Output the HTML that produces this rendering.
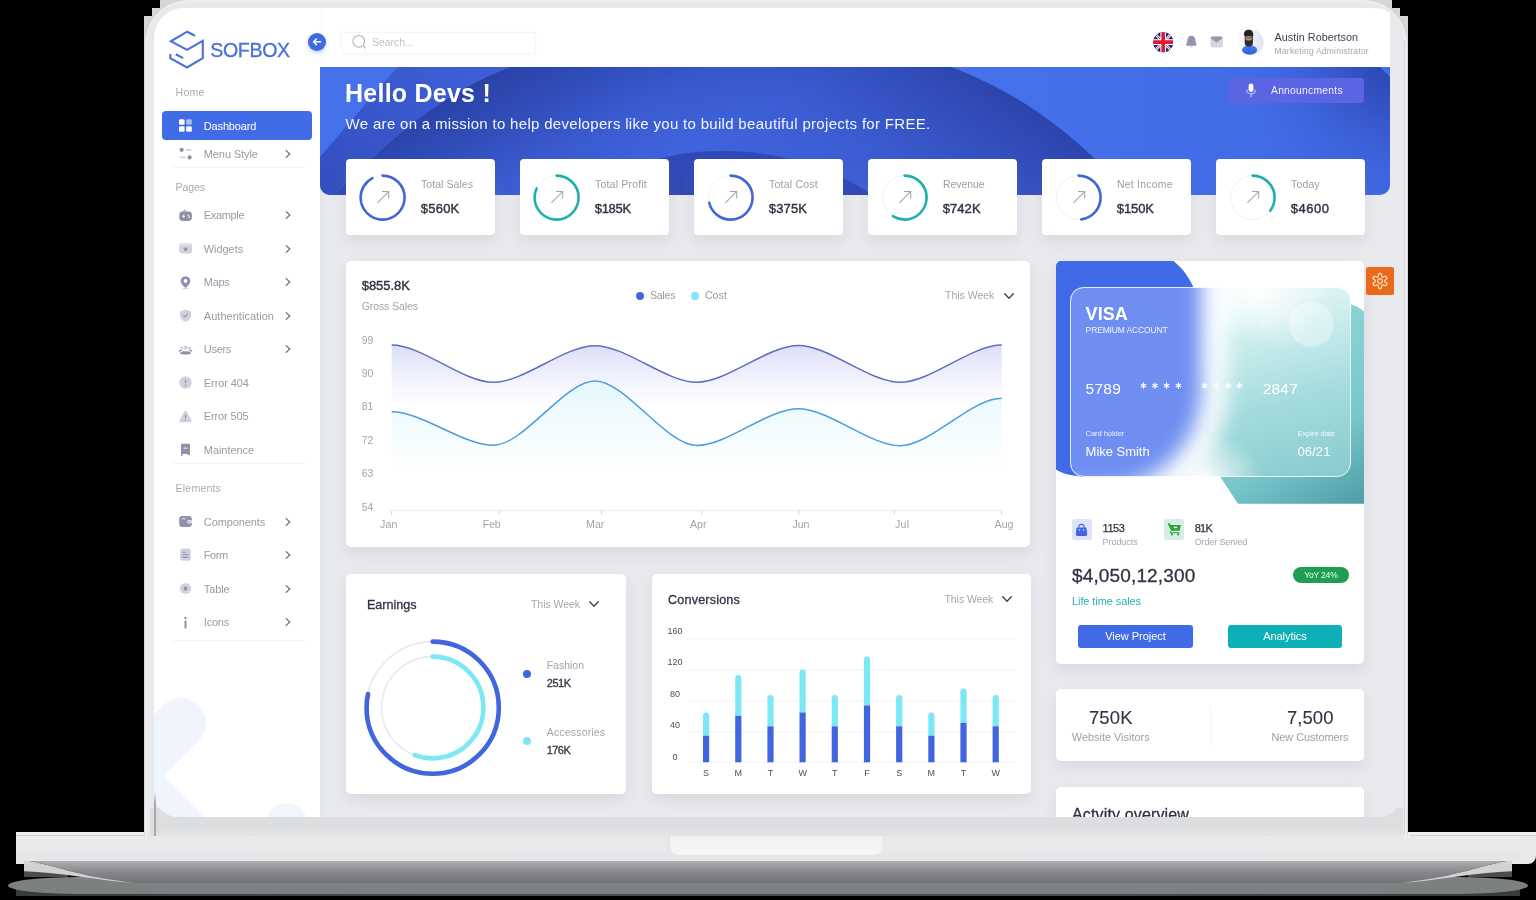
<!DOCTYPE html>
<html lang="en"><head><meta charset="utf-8"><title>Sofbox Dashboard</title>
<style>
html,body{margin:0;padding:0;background:#000;}
body{width:1536px;height:900px;overflow:hidden;position:relative;font-family:'Liberation Sans', sans-serif;}
div,span,svg{position:absolute;box-sizing:border-box;}
span{white-space:nowrap;}
#screen{left:154px;top:8px;width:1247px;height:809px;overflow:hidden;background:#e8eaee;
  border-radius:30px 26px 22px 24px;}
#in{left:-154px;top:-8px;width:1536px;height:900px;will-change:transform;}
.card{background:#fff;border-radius:5px;box-shadow:0 6px 14px rgba(120,124,134,.15);}
</style></head><body>
<div style="left:16px;top:888px;width:1504px;height:8px;background:linear-gradient(90deg,#3a3a3a 0,#4a4b4b 30%,#4a4b4b 70%,#3a3a3a 100%);"></div>
<div style="left:8px;top:876.5px;width:1520px;height:17px;border-radius:70px/8.5px;background:#7c8081;"></div>
<div style="left:24px;top:871.5px;width:44px;height:5.5px;background:#4c4c4c;"></div>
<div style="left:1468px;top:871.5px;width:44px;height:5.5px;background:#4c4c4c;"></div>
<svg style="left:0;top:858px" width="1536" height="30" viewBox="0 858 1536 30"><defs><linearGradient id="ug" gradientUnits="userSpaceOnUse" x1="0" y1="861" x2="0" y2="883"><stop offset="0" stop-color="#adafb1"/><stop offset=".5" stop-color="#86888b"/><stop offset="1" stop-color="#707275"/></linearGradient></defs><path d="M30 861 H1506 C1480 866 1450 878 1400 883 H136 C86 878 56 866 30 861 Z" fill="url(#ug)"/><path d="M24 861 H30 C56 866 86 878 136 883 C100 881 60 872 24 871.5 Z" fill="#d2d2d3"/><path d="M1512 861 H1506 C1480 866 1450 878 1400 883 C1436 881 1476 872 1512 871.5 Z" fill="#d2d2d3"/></svg>
<div style="left:16px;top:832px;width:8px;height:31.7px;background:#e6e6e8;"></div>
<div style="left:1512px;top:832px;width:24px;height:31.7px;border-radius:0 4px 8px 0;background:#e9e9eb;"></div>
<div style="left:16px;top:832px;width:1504px;height:29.3px;background:linear-gradient(#f1f1f2 0,#ececee 5px,#e9e9eb 60%,#e4e5e7 100%);"></div>
<div style="left:16px;top:832px;width:132px;height:4px;background:#efeff0;border-bottom:1px solid #cfcfd1;"></div>
<div style="left:1410px;top:832px;width:126px;height:4px;background:#efeff0;border-bottom:1px solid #cfcfd1;"></div>
<div style="left:144px;top:0;width:1264px;height:836px;background:#d6d6d7;clip-path:polygon(16px 0,1248px 0,1248px 8px,1256px 8px,1256px 16px,1264px 16px,1264px 836px,0 836px,0 16px,8px 16px,8px 8px,16px 8px);"></div>
<div style="left:145px;top:0;width:1262px;height:840px;border-radius:44px 44px 0 0;background:#ededef;"></div>
<div style="left:148px;top:2px;width:1256px;height:838px;border-radius:40px 40px 0 0;background:#e8e9eb;"></div>
<div style="left:1403.5px;top:40px;width:1px;height:794px;background:#d3d4d7;"></div>
<div style="left:150px;top:808px;width:1253px;height:28px;background:linear-gradient(#dcdddf,#dddee0 70%,#e2e3e5);"></div>
<div style="left:668px;top:836px;width:216px;height:19px;border-radius:0 0 10px 10px;background:linear-gradient(#f1f1f3,#f7f7f8);box-shadow:inset 2px 0 2px -1px #d5d6d8,inset -2px 0 2px -1px #e2e3e5;"></div>
<div id="screen"><div id="in">
<div style="left:154px;top:8px;width:1236px;height:59px;background:#fff;"></div>
<div style="left:154px;top:8px;width:166px;height:809px;background:#fff;box-shadow:2px 0 5px rgba(160,170,190,.07);"></div>
<svg style="left:154px;top:680px" width="166" height="137" viewBox="154 680 166 137"><g stroke="#f0f4fc" stroke-width="50" stroke-linecap="round" fill="none"><path d="M181 723 L100 804"/><path d="M100 747.4 L250 897.4"/></g><circle cx="286.7" cy="824" r="21" fill="#f2f5fc"/></svg>
<svg style="left:166px;top:28px" width="42" height="44" viewBox="166 28 42 44"><g fill="none" stroke="#4a72d9" stroke-width="2.1" stroke-linejoin="miter" stroke-linecap="butt"><path d="M194.9 35.8 L187.2 31.7 L170.8 41.3 L187 49.9 L202.8 40.9 V58.1 L187 67.5 L170.3 58.1 V54"/><path d="M175.8 54.2 L183.1 58.1"/></g></svg>
<div style="left:307.5px;top:32.5px;width:18.5px;height:18.5px;border-radius:50%;background:#3f6ae0;box-shadow:0 2px 4px rgba(63,106,224,.3);"></div>
<svg style="left:311px;top:37px" width="12" height="10" viewBox="0 0 12 10"><path d="M9.6 4.8 H2.8 M5.4 2 L2.6 4.8 L5.4 7.6" fill="none" stroke="#fff" stroke-width="1.5" stroke-linecap="round" stroke-linejoin="round"/></svg>
<div style="left:172px;top:167px;width:133.5px;height:1px;background:#f4f5f8;"></div>
<div style="left:172px;top:462.8px;width:133.5px;height:1px;background:#f4f5f8;"></div>
<div style="left:172px;top:640.2px;width:133.5px;height:1px;background:#f4f5f8;"></div>
<div style="left:162px;top:111px;width:150px;height:28.5px;background:#416ce8;border-radius:4px;"></div>
<svg style="left:179px;top:119px" width="13" height="13" viewBox="0 0 13 13" fill="#fff"><rect x="0" y="0.2" width="5.6" height="5.6" rx="1.4"/><rect x="7.2" y="0.2" width="5.6" height="5.6" rx="1.4" opacity=".55"/><rect x="0" y="7.2" width="5.6" height="5.6" rx="1.4"/><rect x="7.2" y="7.2" width="5.6" height="5.6" rx="1.4"/></svg>
<svg style="left:179px;top:147.3px" width="13" height="13" viewBox="0 0 13 13" overflow="visible"><circle cx="2.6" cy="2.8" r="2.1" fill="#8d91a9"/><rect x="6.6" y="2" width="6" height="1.7" rx=".8" fill="#cfd2dc"/><circle cx="10.6" cy="10.4" r="2.1" fill="#8d91a9"/><rect x="0.6" y="9.6" width="6" height="1.7" rx=".8" fill="#cfd2dc"/></svg>
<svg style="left:284px;top:148.8px" width="9" height="10" viewBox="0 0 9 10"><path d="M2.2 1.6 L5.8 5 L2.2 8.4" fill="none" stroke="#6d7080" stroke-width="1.3" stroke-linecap="round" stroke-linejoin="round"/></svg>
<svg style="left:179px;top:208.8px" width="13" height="13" viewBox="0 0 13 13" overflow="visible"><rect x="0.3" y="2.6" width="12.6" height="9.4" rx="3.4" fill="#8d91a9"/><path d="M4.5 2.8 L5.5 0.8 L7 2.6" fill="none" stroke="#8d91a9" stroke-width="1"/><path d="M3.2 7.3 H6 M4.6 5.9 V8.7" stroke="#fff" stroke-width="1"/><circle cx="9.4" cy="6.6" r=".8" fill="#fff"/><circle cx="10.3" cy="8.4" r=".8" fill="#fff"/></svg>
<svg style="left:284px;top:210.3px" width="9" height="10" viewBox="0 0 9 10"><path d="M2.2 1.6 L5.8 5 L2.2 8.4" fill="none" stroke="#6d7080" stroke-width="1.3" stroke-linecap="round" stroke-linejoin="round"/></svg>
<svg style="left:179px;top:242.2px" width="13" height="13" viewBox="0 0 13 13" overflow="visible"><rect x="0.3" y="1.6" width="12.6" height="10" rx="2" fill="#cfd2dc"/><rect x="0.3" y="1.6" width="12.6" height="2.2" rx="1" fill="#dfe1e8"/><path d="M6.6 4.6 L7.4 6.2 L9.1 6.4 L7.8 7.6 L8.2 9.3 L6.6 8.4 L5 9.3 L5.4 7.6 L4.1 6.4 L5.8 6.2 Z" fill="#8d91a9"/></svg>
<svg style="left:284px;top:243.7px" width="9" height="10" viewBox="0 0 9 10"><path d="M2.2 1.6 L5.8 5 L2.2 8.4" fill="none" stroke="#6d7080" stroke-width="1.3" stroke-linecap="round" stroke-linejoin="round"/></svg>
<svg style="left:179px;top:275.6px" width="13" height="13" viewBox="0 0 13 13" overflow="visible"><path d="M6.5 0.4 C3.6 0.4 1.7 2.5 1.7 5 C1.7 7.8 4.6 10.4 6.5 12 C8.4 10.4 11.3 7.8 11.3 5 C11.3 2.5 9.4 0.4 6.5 0.4 Z" fill="#8d91a9"/><circle cx="6.5" cy="4.9" r="1.9" fill="#fff"/><ellipse cx="6.5" cy="12.4" rx="3" ry=".6" fill="#cfd2dc"/></svg>
<svg style="left:284px;top:277.1px" width="9" height="10" viewBox="0 0 9 10"><path d="M2.2 1.6 L5.8 5 L2.2 8.4" fill="none" stroke="#6d7080" stroke-width="1.3" stroke-linecap="round" stroke-linejoin="round"/></svg>
<svg style="left:179px;top:309.0px" width="13" height="13" viewBox="0 0 13 13" overflow="visible"><path d="M6.5 0.5 L12 2.4 V6.4 C12 9.6 9.4 11.6 6.5 12.8 C3.6 11.6 1 9.6 1 6.4 V2.4 Z" fill="#cfd2dc"/><path d="M4.3 6.3 L5.9 7.8 L8.8 4.9" fill="none" stroke="#8d91a9" stroke-width="1.1"/></svg>
<svg style="left:284px;top:310.5px" width="9" height="10" viewBox="0 0 9 10"><path d="M2.2 1.6 L5.8 5 L2.2 8.4" fill="none" stroke="#6d7080" stroke-width="1.3" stroke-linecap="round" stroke-linejoin="round"/></svg>
<svg style="left:179px;top:342.4px" width="13" height="13" viewBox="0 0 13 13" overflow="visible"><path d="M1 11.8 C1 9.8 3.4 9.2 6.5 9.2 C9.6 9.2 12 9.8 12 11.8 C10 12.8 3 12.8 1 11.8 Z" fill="#8d91a9"/><circle cx="6.5" cy="5.6" r="2.2" fill="#cfd2dc"/><circle cx="2.4" cy="6" r="1.6" fill="#cfd2dc"/><circle cx="10.6" cy="6" r="1.6" fill="#cfd2dc"/><path d="M0 9.8 C0.5 8.6 2 8.3 3 8.6 M13 9.8 C12.5 8.6 11 8.3 10 8.6" stroke="#8d91a9" stroke-width="1.2" fill="none"/></svg>
<svg style="left:284px;top:343.9px" width="9" height="10" viewBox="0 0 9 10"><path d="M2.2 1.6 L5.8 5 L2.2 8.4" fill="none" stroke="#6d7080" stroke-width="1.3" stroke-linecap="round" stroke-linejoin="round"/></svg>
<svg style="left:179px;top:376.2px" width="13" height="13" viewBox="0 0 13 13" overflow="visible"><circle cx="6.5" cy="6.5" r="6.2" fill="#cfd2dc"/><rect x="5.9" y="3.4" width="1.2" height="4" rx=".6" fill="#8d91a9"/><circle cx="6.5" cy="9.3" r=".8" fill="#8d91a9"/></svg>
<svg style="left:179px;top:409.7px" width="13" height="13" viewBox="0 0 13 13" overflow="visible"><path d="M6.5 0.8 C7 0.8 7.4 1.1 7.7 1.6 L12.6 10.4 C13.1 11.4 12.5 12.3 11.4 12.3 H1.6 C0.5 12.3 -0.1 11.4 0.4 10.4 L5.3 1.6 C5.6 1.1 6 0.8 6.5 0.8 Z" fill="#cfd2dc"/><rect x="5.9" y="4.6" width="1.2" height="3.6" rx=".6" fill="#8d91a9"/><circle cx="6.5" cy="10" r=".8" fill="#8d91a9"/></svg>
<svg style="left:179px;top:443.2px" width="13" height="13" viewBox="0 0 13 13" overflow="visible"><path d="M2.8 1.4 H10.2 V11.6 L8.2 10.2 H2.8 V12.6 Z" fill="#8d91a9" stroke="#8d91a9" stroke-width="1.5" stroke-linejoin="round"/><rect x="4.4" y="4.4" width="4.2" height="1.3" rx=".6" fill="#e6e8ef"/></svg>
<svg style="left:179px;top:515.1px" width="13" height="13" viewBox="0 0 13 13" overflow="visible"><rect x="0.2" y="1" width="12.6" height="11" rx="3" fill="#8d91a9"/><rect x="2.6" y="3.2" width="4" height="1.1" rx=".5" fill="#e6e8ef"/><rect x="8" y="5" width="5" height="3.4" rx="1.7" fill="#e6e8ef"/><circle cx="10" cy="6.7" r=".8" fill="#8d91a9"/></svg>
<svg style="left:284px;top:516.6px" width="9" height="10" viewBox="0 0 9 10"><path d="M2.2 1.6 L5.8 5 L2.2 8.4" fill="none" stroke="#6d7080" stroke-width="1.3" stroke-linecap="round" stroke-linejoin="round"/></svg>
<svg style="left:179px;top:548.4px" width="13" height="13" viewBox="0 0 13 13" overflow="visible"><rect x="1.2" y="0.4" width="10.6" height="12.4" rx="2.4" fill="#cfd2dc"/><path d="M3.8 4.2 H6.6 M3.8 6.8 H9.2 M3.8 9.4 H9.2" stroke="#8d91a9" stroke-width="1.1" stroke-linecap="round"/></svg>
<svg style="left:284px;top:549.9px" width="9" height="10" viewBox="0 0 9 10"><path d="M2.2 1.6 L5.8 5 L2.2 8.4" fill="none" stroke="#6d7080" stroke-width="1.3" stroke-linecap="round" stroke-linejoin="round"/></svg>
<svg style="left:179px;top:582.3px" width="13" height="13" viewBox="0 0 13 13" overflow="visible"><path d="M6.5 0.3 L8 1.9 L10.2 1.5 L10.6 3.7 L12.6 4.7 L11.6 6.5 L12.6 8.3 L10.6 9.3 L10.2 11.5 L8 11.1 L6.5 12.7 L5 11.1 L2.8 11.5 L2.4 9.3 L0.4 8.3 L1.4 6.5 L0.4 4.7 L2.4 3.7 L2.8 1.5 L5 1.9 Z" fill="#cfd2dc"/><circle cx="6.5" cy="6.5" r="1.9" fill="#8d91a9"/></svg>
<svg style="left:284px;top:583.8px" width="9" height="10" viewBox="0 0 9 10"><path d="M2.2 1.6 L5.8 5 L2.2 8.4" fill="none" stroke="#6d7080" stroke-width="1.3" stroke-linecap="round" stroke-linejoin="round"/></svg>
<svg style="left:179px;top:615.5px" width="13" height="13" viewBox="0 0 13 13" overflow="visible"><rect x="5.5" y="4.6" width="2" height="7.8" rx=".4" fill="#8d91a9"/><circle cx="6.5" cy="1.9" r="1.2" fill="#8d91a9"/></svg>
<svg style="left:284px;top:617.0px" width="9" height="10" viewBox="0 0 9 10"><path d="M2.2 1.6 L5.8 5 L2.2 8.4" fill="none" stroke="#6d7080" stroke-width="1.3" stroke-linecap="round" stroke-linejoin="round"/></svg>
<div style="left:341px;top:32px;width:195px;height:21.5px;background:#fff;border:1px solid #f5f6f8;border-radius:3px;box-shadow:0 1px 3px rgba(160,170,190,.08);"></div>
<svg style="left:350px;top:33px" width="18" height="18" viewBox="350 33 18 18"><circle cx="358.8" cy="41.3" r="5.8" fill="none" stroke="#b4b6be" stroke-width="1.1"/><path d="M363 45.6 L365.2 48" stroke="#b4b6be" stroke-width="1.2" stroke-linecap="round"/></svg>
<svg style="left:1153px;top:32.2px" width="20.4" height="20.4" viewBox="0 0 20 20"><defs><clipPath id="fc"><circle cx="10" cy="10" r="10"/></clipPath></defs><g clip-path="url(#fc)"><rect width="20" height="20" fill="#1b2a6e"/><path d="M-2 -2 L22 22 M22 -2 L-2 22" stroke="#fff" stroke-width="2.6"/><path d="M-2 -2 L22 22 M22 -2 L-2 22" stroke="#d8203a" stroke-width=".9"/><path d="M10 0 V20 M0 10 H20" stroke="#fff" stroke-width="5.6"/><path d="M10 0 V20 M0 10 H20" stroke="#dc1a34" stroke-width="3.6"/></g></svg>
<svg style="left:1184.8px;top:35px" width="13" height="14" viewBox="0 0 13 14"><path d="M1.2 9.4 C1.2 8.3 2.3 7.8 2.3 5.4 C2.3 2.5 4.1 0.7 6.4 0.7 C8.7 0.7 10.5 2.5 10.5 5.4 C10.5 7.8 11.6 8.3 11.6 9.4 C11.6 10.3 11 10.8 10.1 10.8 H2.7 C1.8 10.8 1.2 10.3 1.2 9.4 Z" fill="#9295ad"/><path d="M4.8 11.6 C5.2 13.2 7.6 13.2 8 11.6 Z" fill="#d3d5de"/></svg>
<svg style="left:1210.3px;top:36.3px" width="13.2" height="12" viewBox="0 0 13.2 12"><rect x="0.3" y="0.4" width="12.6" height="11.2" rx="2.4" fill="#d4d6df"/><path d="M0.9 1.6 C1.2 0.8 1.8 0.4 2.7 0.4 H10.5 C11.4 0.4 12 0.8 12.3 1.6 V2.6 L6.6 6.6 L0.9 2.6 Z" fill="#9598ae"/></svg>
<svg style="left:1237px;top:28.7px" width="26.6" height="26.6" viewBox="1237 28.7 26.6 26.6"><defs><clipPath id="ac"><circle cx="1250.3" cy="42" r="13.3"/></clipPath><linearGradient id="ab" x1="0" y1="0" x2="1" y2="0"><stop offset="0" stop-color="#fbfcfe"/><stop offset=".45" stop-color="#f1f3fa"/><stop offset="1" stop-color="#dfe3f4"/></linearGradient><linearGradient id="as" x1="0" y1="0" x2="0" y2="1"><stop offset="0" stop-color="#4a7cf0"/><stop offset="1" stop-color="#2a5fe2"/></linearGradient></defs><circle cx="1250.3" cy="42" r="13.3" fill="url(#ab)"/><g clip-path="url(#ac)"><ellipse cx="1249.6" cy="49.7" rx="7.6" ry="4.7" fill="url(#as)"/><rect x="1244.7" y="32" width="8.2" height="14.2" rx="3.8" fill="#2e2d31"/><ellipse cx="1248.7" cy="37.9" rx="3.3" ry="2.3" fill="#b9937c"/><path d="M1244 35.4 C1243.6 31.4 1245.6 29.4 1248.8 29.4 C1251.8 29.4 1253.6 31.4 1253.2 35.6 C1252 34.6 1250.6 35.6 1248.6 35.6 C1246.6 35.6 1245.2 34.6 1244 35.4 Z" fill="#232327"/><rect x="1246" y="37" width="5.6" height="1.3" rx=".6" fill="#4a4140" opacity=".7"/></g></svg>
<svg style="left:320px;top:67px" width="1070" height="128" viewBox="320 67 1070 128"><defs><clipPath id="bc"><path d="M320 67 H1390 V185 A10 10 0 0 1 1380 195 H330 A10 10 0 0 1 320 185 Z"/></clipPath><linearGradient id="bg0" gradientUnits="userSpaceOnUse" x1="1000" y1="0" x2="1390" y2="0"><stop offset="0" stop-color="#4571eb"/><stop offset="1" stop-color="#4169e4"/></linearGradient><linearGradient id="bgF" gradientUnits="userSpaceOnUse" x1="1046" y1="108" x2="919" y2="295"><stop offset="0" stop-color="#2a41a6" stop-opacity=".95"/><stop offset=".25" stop-color="#2a41a6" stop-opacity=".62"/><stop offset=".6" stop-color="#2a41a6" stop-opacity=".22"/><stop offset="1" stop-color="#2a41a6" stop-opacity="0"/></linearGradient><linearGradient id="bgC" gradientUnits="userSpaceOnUse" x1="470" y1="72" x2="550" y2="222"><stop offset="0" stop-color="#2840a4" stop-opacity="1"/><stop offset=".3" stop-color="#2840a4" stop-opacity=".7"/><stop offset=".65" stop-color="#2840a4" stop-opacity=".25"/><stop offset="1" stop-color="#2840a4" stop-opacity="0"/></linearGradient><radialGradient id="bgR" gradientUnits="userSpaceOnUse" cx="1396" cy="60" r="150"><stop offset="0" stop-color="#2842a8" stop-opacity=".95"/><stop offset=".35" stop-color="#2c46b0" stop-opacity=".6"/><stop offset=".7" stop-color="#3050c0" stop-opacity=".2"/><stop offset="1" stop-color="#3050c0" stop-opacity="0"/></radialGradient><linearGradient id="bgB" gradientUnits="userSpaceOnUse" x1="470" y1="67" x2="330" y2="195"><stop offset="0" stop-color="#3d5ed5"/><stop offset="1" stop-color="#3350c1"/></linearGradient></defs><g clip-path="url(#bc)"><rect x="320" y="67" width="1070" height="128" fill="url(#bg0)"/><path d="M510.6 67 H951 A413.8 413.8 0 0 1 1127.4 195 H334.6 C345 184 360 170 372 158.5 C410 122 460 85 510.6 67 Z" fill="#4064de"/><path d="M510.6 67 H951 A413.8 413.8 0 0 1 1127.4 195 H334.6 C345 184 360 170 372 158.5 C410 122 460 85 510.6 67 Z" fill="url(#bgF)"/><path d="M510.6 67 H951 A413.8 413.8 0 0 1 1127.4 195 H334.6 C345 184 360 170 372 158.5 C410 122 460 85 510.6 67 Z" fill="url(#bgC)"/><path d="M397.2 67 H510.6 C460 85 410 122 372 158.5 C360 170 345 184 334.6 195 H320 V156.8 Z" fill="url(#bgB)"/><path d="M600 195 C625 160 680 150 729 151 C790 153 830 168 873 195 Z" fill="#2e47b2" opacity=".9"/><path d="M320 67 H397.2 L320 156.8 Z" fill="#4572ea"/><rect x="1240" y="67" width="150" height="128" fill="url(#bgR)"/><path d="M1380 67 H1390 V77 Z" fill="#4470ea"/></g></svg>
<div style="left:1229px;top:78px;width:135px;height:25px;background:#5b64e2;border-radius:3px;"></div>
<svg style="left:1245px;top:83px" width="12" height="15" viewBox="0 0 12 15"><rect x="3.6" y="0.6" width="4.8" height="8.4" rx="2.4" fill="#fff"/><path d="M1.8 7 C1.8 12.2 10.2 12.2 10.2 7 M6 11 V13.4" fill="none" stroke="#c8cbf6" stroke-width="1.1" stroke-linecap="round"/></svg>
<div class="card" style="left:346px;top:159.2px;width:148.8px;height:75.7px;border-radius:4px;"></div>
<svg style="left:358.3px;top:172.6px" width="49.2" height="49.2" viewBox="-24.6 -24.6 49.2 49.2"><circle r="22.0" fill="none" stroke="#f0f0f3" stroke-width="1.0"/><circle r="22.0" fill="none" stroke="#4166d5" stroke-width="2.6" stroke-linecap="round" stroke-dasharray="126.76 138.23" transform="rotate(-90)"/></svg>
<svg style="left:375.9px;top:190.2px" width="14" height="14" viewBox="-7 -7 14 14"><path d="M-5.6 5.8 L5.6 -5.4 M-1 -5.5 H5.7 V1.4" fill="none" stroke="#a4a5ad" stroke-width="1.05"/></svg>
<div class="card" style="left:520px;top:159.2px;width:148.8px;height:75.7px;border-radius:4px;"></div>
<svg style="left:532.3px;top:172.6px" width="49.2" height="49.2" viewBox="-24.6 -24.6 49.2 49.2"><circle r="22.0" fill="none" stroke="#f0f0f3" stroke-width="1.0"/><circle r="22.0" fill="none" stroke="#1fb0ab" stroke-width="2.6" stroke-linecap="round" stroke-dasharray="112.38 138.23" transform="rotate(-90)"/></svg>
<svg style="left:549.9px;top:190.2px" width="14" height="14" viewBox="-7 -7 14 14"><path d="M-5.6 5.8 L5.6 -5.4 M-1 -5.5 H5.7 V1.4" fill="none" stroke="#a4a5ad" stroke-width="1.05"/></svg>
<div class="card" style="left:694px;top:159.2px;width:148.8px;height:75.7px;border-radius:4px;"></div>
<svg style="left:706.3px;top:172.6px" width="49.2" height="49.2" viewBox="-24.6 -24.6 49.2 49.2"><circle r="22.0" fill="none" stroke="#f0f0f3" stroke-width="1.0"/><circle r="22.0" fill="none" stroke="#4166d5" stroke-width="2.6" stroke-linecap="round" stroke-dasharray="97.73 138.23" transform="rotate(-90)"/></svg>
<svg style="left:723.9px;top:190.2px" width="14" height="14" viewBox="-7 -7 14 14"><path d="M-5.6 5.8 L5.6 -5.4 M-1 -5.5 H5.7 V1.4" fill="none" stroke="#a4a5ad" stroke-width="1.05"/></svg>
<div class="card" style="left:868px;top:159.2px;width:148.8px;height:75.7px;border-radius:4px;"></div>
<svg style="left:880.3px;top:172.6px" width="49.2" height="49.2" viewBox="-24.6 -24.6 49.2 49.2"><circle r="22.0" fill="none" stroke="#f0f0f3" stroke-width="1.0"/><circle r="22.0" fill="none" stroke="#1fb0ab" stroke-width="2.6" stroke-linecap="round" stroke-dasharray="81.00 138.23" transform="rotate(-90)"/></svg>
<svg style="left:897.9px;top:190.2px" width="14" height="14" viewBox="-7 -7 14 14"><path d="M-5.6 5.8 L5.6 -5.4 M-1 -5.5 H5.7 V1.4" fill="none" stroke="#a4a5ad" stroke-width="1.05"/></svg>
<div class="card" style="left:1042px;top:159.2px;width:148.8px;height:75.7px;border-radius:4px;"></div>
<svg style="left:1054.3px;top:172.6px" width="49.2" height="49.2" viewBox="-24.6 -24.6 49.2 49.2"><circle r="22.0" fill="none" stroke="#f0f0f3" stroke-width="1.0"/><circle r="22.0" fill="none" stroke="#4166d5" stroke-width="2.6" stroke-linecap="round" stroke-dasharray="66.07 138.23" transform="rotate(-90)"/></svg>
<svg style="left:1071.9px;top:190.2px" width="14" height="14" viewBox="-7 -7 14 14"><path d="M-5.6 5.8 L5.6 -5.4 M-1 -5.5 H5.7 V1.4" fill="none" stroke="#a4a5ad" stroke-width="1.05"/></svg>
<div class="card" style="left:1216px;top:159.2px;width:148.8px;height:75.7px;border-radius:4px;"></div>
<svg style="left:1228.3px;top:172.6px" width="49.2" height="49.2" viewBox="-24.6 -24.6 49.2 49.2"><circle r="22.0" fill="none" stroke="#f0f0f3" stroke-width="1.0"/><circle r="22.0" fill="none" stroke="#1fb0ab" stroke-width="2.6" stroke-linecap="round" stroke-dasharray="48.38 138.23" transform="rotate(-90)"/></svg>
<svg style="left:1245.9px;top:190.2px" width="14" height="14" viewBox="-7 -7 14 14"><path d="M-5.6 5.8 L5.6 -5.4 M-1 -5.5 H5.7 V1.4" fill="none" stroke="#a4a5ad" stroke-width="1.05"/></svg>
<div class="card" style="left:346px;top:260.7px;width:684px;height:286.3px;"></div>
<div style="left:636px;top:291.5px;width:8px;height:8px;border-radius:50%;background:#3f66df;"></div>
<div style="left:691.3px;top:291.5px;width:8px;height:8px;border-radius:50%;background:#7de8f5;"></div>
<svg style="left:1002.6px;top:292.0px" width="12" height="8" viewBox="-6 -4 12 8"><path d="M-4.3 -2.2 L0 2.2 L4.3 -2.2" fill="none" stroke="#3c3f4c" stroke-width="1.3" stroke-linecap="round" stroke-linejoin="round"/></svg>
<svg style="left:380px;top:330px" width="640" height="200" viewBox="380 330 640 200"><defs><linearGradient id="gs" gradientUnits="userSpaceOnUse" x1="0" y1="345" x2="0" y2="408"><stop offset="0" stop-color="#6a74e0" stop-opacity=".24"/><stop offset=".5" stop-color="#8088e8" stop-opacity=".12"/><stop offset="1" stop-color="#a0a6f0" stop-opacity="0"/></linearGradient><linearGradient id="gc" gradientUnits="userSpaceOnUse" x1="0" y1="381" x2="0" y2="470"><stop offset="0" stop-color="#e4f8fc" stop-opacity="1"/><stop offset=".45" stop-color="#f1fbfe" stop-opacity="1"/><stop offset="1" stop-color="#ffffff" stop-opacity="1"/></linearGradient></defs><path d="M391.7 345.0 C422.2 345.0 462.8 382.3 493.4 382.3 C523.9 382.3 564.5 345.7 595.0 345.7 C625.6 345.7 666.2 382.3 696.7 382.3 C727.2 382.3 767.8 345.5 798.4 345.5 C828.9 345.5 869.5 382.3 900.0 382.3 C930.6 382.3 971.2 345.0 1001.7 345.0 L1001.7 510.7 L391.7 510.7 Z" fill="url(#gs)"/><path d="M391.7 411.7 C422.2 411.7 462.8 445.3 493.4 445.3 C523.9 445.3 564.5 381.0 595.0 381.0 C625.6 381.0 666.2 445.5 696.7 445.5 C727.2 445.5 767.8 408.7 798.4 408.7 C828.9 408.7 869.5 445.7 900.0 445.7 C930.6 445.7 971.2 398.3 1001.7 398.3 L1001.7 510.7 L391.7 510.7 Z" fill="url(#gc)"/><path d="M391.7 510.7 H1001.7" stroke="#e9eaef" stroke-width="1"/><path d="M391.7 510.7 v4.2" stroke="#d4d6de" stroke-width="1"/><path d="M499.3 510.7 v4.2" stroke="#d4d6de" stroke-width="1"/><path d="M601.7 510.7 v4.2" stroke="#d4d6de" stroke-width="1"/><path d="M701.7 510.7 v4.2" stroke="#d4d6de" stroke-width="1"/><path d="M799 510.7 v4.2" stroke="#d4d6de" stroke-width="1"/><path d="M894.3 510.7 v4.2" stroke="#d4d6de" stroke-width="1"/><path d="M1001.7 510.7 v4.2" stroke="#d4d6de" stroke-width="1"/><path d="M391.7 345.0 C422.2 345.0 462.8 382.3 493.4 382.3 C523.9 382.3 564.5 345.7 595.0 345.7 C625.6 345.7 666.2 382.3 696.7 382.3 C727.2 382.3 767.8 345.5 798.4 345.5 C828.9 345.5 869.5 382.3 900.0 382.3 C930.6 382.3 971.2 345.0 1001.7 345.0" fill="none" stroke="#5c6ec0" stroke-width="1.5"/><path d="M391.7 411.7 C422.2 411.7 462.8 445.3 493.4 445.3 C523.9 445.3 564.5 381.0 595.0 381.0 C625.6 381.0 666.2 445.5 696.7 445.5 C727.2 445.5 767.8 408.7 798.4 408.7 C828.9 408.7 869.5 445.7 900.0 445.7 C930.6 445.7 971.2 398.3 1001.7 398.3" fill="none" stroke="#4a9ddf" stroke-width="1.5"/></svg>
<div class="card" style="left:346px;top:573.8px;width:280px;height:220px;"></div>
<svg style="left:588.3px;top:599.6px" width="12" height="8" viewBox="-6 -4 12 8"><path d="M-4.3 -2.2 L0 2.2 L4.3 -2.2" fill="none" stroke="#3c3f4c" stroke-width="1.3" stroke-linecap="round" stroke-linejoin="round"/></svg>
<svg style="left:362.0px;top:636.6px" width="141.4" height="141.4" viewBox="-70.7 -70.7 141.4 141.4"><circle r="66.1" fill="none" stroke="#e9e9ee" stroke-width="1.6"/><circle r="66.1" fill="none" stroke="#3f66df" stroke-width="4.6" stroke-linecap="round" stroke-dasharray="324.78 415.32" transform="rotate(-90)"/></svg>
<svg style="left:377.2px;top:651.8px" width="111.0" height="111.0" viewBox="-55.5 -55.5 111.0 111.0"><circle r="50.9" fill="none" stroke="#e9e9ee" stroke-width="1.6"/><circle r="50.9" fill="none" stroke="#7de8f5" stroke-width="4.6" stroke-linecap="round" stroke-dasharray="177.82 319.81" transform="rotate(-90)"/></svg>
<div style="left:522.7px;top:669.8px;width:8px;height:8px;border-radius:50%;background:#3f66df;"></div>
<div style="left:522.7px;top:737px;width:8px;height:8px;border-radius:50%;background:#7de8f5;"></div>
<div class="card" style="left:652px;top:573.8px;width:378.7px;height:220px;"></div>
<svg style="left:1001.0px;top:594.8px" width="12" height="8" viewBox="-6 -4 12 8"><path d="M-4.3 -2.2 L0 2.2 L4.3 -2.2" fill="none" stroke="#3c3f4c" stroke-width="1.3" stroke-linecap="round" stroke-linejoin="round"/></svg>
<svg style="left:685px;top:630px" width="340" height="140" viewBox="685 630 340 140"><path d="M689 638.9 H1014.7" stroke="#f3f3f7" stroke-width="1"/><path d="M689 669.8 H1014.7" stroke="#f3f3f7" stroke-width="1"/><path d="M689 701.0 H1014.7" stroke="#f3f3f7" stroke-width="1"/><path d="M689 731.7 H1014.7" stroke="#f3f3f7" stroke-width="1"/><path d="M689 762.3 H1014.7" stroke="#f3f3f7" stroke-width="1"/><path d="M703.0 735.7 V715.6 a3.1 3.1 0 0 1 6.2 0 V735.7 Z" fill="#7de8f5"/><rect x="703.0" y="735.7" width="6.2" height="26.6" fill="#3f66df"/><path d="M735.2 715.9 V678.2 a3.1 3.1 0 0 1 6.2 0 V715.9 Z" fill="#7de8f5"/><rect x="735.2" y="715.9" width="6.2" height="46.4" fill="#3f66df"/><path d="M767.4 726.3 V698.2 a3.1 3.1 0 0 1 6.2 0 V726.3 Z" fill="#7de8f5"/><rect x="767.4" y="726.3" width="6.2" height="36.0" fill="#3f66df"/><path d="M799.5 712.5 V672.6 a3.1 3.1 0 0 1 6.2 0 V712.5 Z" fill="#7de8f5"/><rect x="799.5" y="712.5" width="6.2" height="49.8" fill="#3f66df"/><path d="M831.7 726.3 V698.2 a3.1 3.1 0 0 1 6.2 0 V726.3 Z" fill="#7de8f5"/><rect x="831.7" y="726.3" width="6.2" height="36.0" fill="#3f66df"/><path d="M863.9 705.5 V659.6 a3.1 3.1 0 0 1 6.2 0 V705.5 Z" fill="#7de8f5"/><rect x="863.9" y="705.5" width="6.2" height="56.8" fill="#3f66df"/><path d="M896.1 726.3 V698.2 a3.1 3.1 0 0 1 6.2 0 V726.3 Z" fill="#7de8f5"/><rect x="896.1" y="726.3" width="6.2" height="36.0" fill="#3f66df"/><path d="M928.3 735.7 V715.6 a3.1 3.1 0 0 1 6.2 0 V735.7 Z" fill="#7de8f5"/><rect x="928.3" y="735.7" width="6.2" height="26.6" fill="#3f66df"/><path d="M960.4 722.9 V691.6 a3.1 3.1 0 0 1 6.2 0 V722.9 Z" fill="#7de8f5"/><rect x="960.4" y="722.9" width="6.2" height="39.4" fill="#3f66df"/><path d="M992.6 726.3 V698.2 a3.1 3.1 0 0 1 6.2 0 V726.3 Z" fill="#7de8f5"/><rect x="992.6" y="726.3" width="6.2" height="36.0" fill="#3f66df"/></svg>
<div class="card" style="left:1056.4px;top:260.5px;width:307.6px;height:403px;"></div>
<svg style="left:1056px;top:260.5px" width="308" height="250" viewBox="1056 260.5 308 250"><defs><clipPath id="rc"><path d="M1061 260.5 H1359 A5 5 0 0 1 1364 265.5 V520 H1056 V265.5 A5 5 0 0 1 1061 260.5 Z"/></clipPath><linearGradient id="tg" gradientUnits="userSpaceOnUse" x1="1260" y1="330" x2="1364" y2="503"><stop offset="0" stop-color="#90d6d7"/><stop offset=".6" stop-color="#77c8cb"/><stop offset="1" stop-color="#4f9ca7"/></linearGradient></defs><g clip-path="url(#rc)"><path d="M1056 260.5 H1173.5 C1183 268 1189 277 1194 288 V476 H1086 C1072 476 1062 473 1056 469 Z" fill="#406ae8"/><path d="M1340 300 C1350 303 1358 306 1364 311 V503.2 H1238 L1216 470 H1340 Z" fill="url(#tg)"/></g></svg>
<div style="left:1070px;top:286.6px;width:280.6px;height:190.4px;border-radius:14px;overflow:hidden;background:radial-gradient(ellipse 75px 55px at 66% 0%,rgba(255,255,255,1),rgba(255,255,255,0) 100%),radial-gradient(ellipse 60px 45px at 47% 100%,rgba(255,255,255,.95),rgba(255,255,255,0) 100%),linear-gradient(165deg,#ffffff 5%,#d0efef 35%,#a4dcde 65%,#87cacd 100%);"><div style="left:-60px;top:-60px;width:191px;height:262px;border-radius:0 0 100px 0;background:#6e8ef1;box-shadow:0 0 0 26px rgba(255,255,255,.92);filter:blur(10px);"></div><div style="left:189.5px;top:15.3px;width:45px;height:45px;border-radius:50%;background:rgba(255,255,255,.13);"></div><div style="left:219.1px;top:15.3px;width:45px;height:45px;border-radius:50%;background:rgba(255,255,255,.36);"></div><div style="left:0;top:0;width:280.6px;height:190.4px;border-radius:14px;border:1.4px solid rgba(255,255,255,.82);"></div></div>
<svg style="left:1136px;top:380px" width="112" height="13" viewBox="1136 380 112 13"><g stroke="#fff" stroke-width="1.15" stroke-linecap="round"><path d="M1143.50 382.90 L1143.50 388.30"/><path d="M1141.16 384.25 L1145.84 386.95"/><path d="M1145.84 384.25 L1141.16 386.95"/><path d="M1155.00 382.90 L1155.00 388.30"/><path d="M1152.66 384.25 L1157.34 386.95"/><path d="M1157.34 384.25 L1152.66 386.95"/><path d="M1166.60 382.90 L1166.60 388.30"/><path d="M1164.26 384.25 L1168.94 386.95"/><path d="M1168.94 384.25 L1164.26 386.95"/><path d="M1178.40 382.90 L1178.40 388.30"/><path d="M1176.06 384.25 L1180.74 386.95"/><path d="M1180.74 384.25 L1176.06 386.95"/><path d="M1204.50 382.90 L1204.50 388.30"/><path d="M1202.16 384.25 L1206.84 386.95"/><path d="M1206.84 384.25 L1202.16 386.95"/><path d="M1216.50 382.90 L1216.50 388.30"/><path d="M1214.16 384.25 L1218.84 386.95"/><path d="M1218.84 384.25 L1214.16 386.95"/><path d="M1228.20 382.90 L1228.20 388.30"/><path d="M1225.86 384.25 L1230.54 386.95"/><path d="M1230.54 384.25 L1225.86 386.95"/><path d="M1239.60 382.90 L1239.60 388.30"/><path d="M1237.26 384.25 L1241.94 386.95"/><path d="M1241.94 384.25 L1237.26 386.95"/></g></svg>
<div style="left:1365.8px;top:267px;width:28.4px;height:28px;background:#ea6a1d;border-radius:2.5px;box-shadow:0 0 1.5px #fbd3b4;"></div>
<svg style="left:1371px;top:271.8px" width="18" height="18" viewBox="-9 -9 18 18"><g fill="none" stroke="#ffe2bc" stroke-width="1.25" stroke-linejoin="round"><path d="M4.60 0.00 L4.66 0.31 L4.85 0.64 L5.18 1.03 L5.94 1.59 L6.65 2.26 L6.85 2.84 L6.84 3.37 L6.67 3.85 L6.34 4.24 L5.88 4.51 L5.28 4.63 L4.35 4.35 L3.48 3.97 L2.98 3.88 L2.60 3.88 L2.30 3.98 L2.07 4.19 L1.87 4.52 L1.70 5.00 L1.59 5.94 L1.37 6.89 L0.97 7.35 L0.50 7.61 L0.00 7.70 L-0.50 7.61 L-0.97 7.35 L-1.37 6.89 L-1.59 5.94 L-1.70 5.00 L-1.87 4.52 L-2.07 4.19 L-2.30 3.98 L-2.60 3.88 L-2.98 3.88 L-3.48 3.97 L-4.35 4.35 L-5.28 4.63 L-5.88 4.51 L-6.34 4.24 L-6.67 3.85 L-6.84 3.37 L-6.85 2.84 L-6.65 2.26 L-5.94 1.59 L-5.18 1.03 L-4.85 0.64 L-4.66 0.31 L-4.60 0.00 L-4.66 -0.31 L-4.85 -0.64 L-5.18 -1.03 L-5.94 -1.59 L-6.65 -2.26 L-6.85 -2.84 L-6.84 -3.37 L-6.67 -3.85 L-6.34 -4.24 L-5.88 -4.51 L-5.28 -4.63 L-4.35 -4.35 L-3.48 -3.97 L-2.98 -3.88 L-2.60 -3.88 L-2.30 -3.98 L-2.07 -4.19 L-1.87 -4.52 L-1.70 -5.00 L-1.59 -5.94 L-1.37 -6.89 L-0.97 -7.35 L-0.50 -7.61 L-0.00 -7.70 L0.50 -7.61 L0.97 -7.35 L1.37 -6.89 L1.59 -5.94 L1.70 -5.00 L1.87 -4.52 L2.07 -4.19 L2.30 -3.98 L2.60 -3.88 L2.98 -3.88 L3.48 -3.97 L4.35 -4.35 L5.28 -4.63 L5.88 -4.51 L6.34 -4.24 L6.67 -3.85 L6.84 -3.37 L6.85 -2.84 L6.65 -2.26 L5.94 -1.59 L5.18 -1.03 L4.85 -0.64 L4.66 -0.31 Z"/><circle r="2.35"/></g></svg>
<div style="left:1071.8px;top:519.4px;width:20.2px;height:20.2px;background:#dfe3f9;border-radius:3px;"></div>
<svg style="left:1075.4px;top:522.6px" width="13" height="14" viewBox="0 0 13 14"><path d="M4 5 V3.6 C4 0.6 9 0.6 9 3.6 V5" fill="none" stroke="#3f66e0" stroke-width="1.1"/><path d="M1.6 4.4 H11.4 L12.2 11 C12.3 12.3 11.6 13 10.4 13 H2.6 C1.4 13 0.7 12.3 0.8 11 Z" fill="#3f66e0"/><circle cx="4.4" cy="7" r=".8" fill="#dfe3f9"/><circle cx="8.6" cy="7" r=".8" fill="#dfe3f9"/></svg>
<div style="left:1163.6px;top:519.4px;width:20.4px;height:20.2px;background:#d6ece8;border-radius:3px;"></div>
<svg style="left:1166.6px;top:522.4px" width="15" height="14" viewBox="0 0 15 14"><path d="M0.6 1.2 H2.6 L3.6 3 H13.8 L12.6 8.8 H4.2 Z" fill="#2aa32a"/><path d="M3.8 9 L3.2 10.8 H12.4" fill="none" stroke="#2aa32a" stroke-width="1"/><circle cx="5" cy="12.4" r="1.05" fill="#2aa32a"/><circle cx="11.2" cy="12.4" r="1.05" fill="#2aa32a"/><rect x="6.6" y="4.6" width="3.6" height="1.6" rx=".4" fill="#d6ece8"/></svg>
<div style="left:1293px;top:567px;width:56px;height:15.7px;background:#1e9e52;border-radius:8px;"></div>
<div style="left:1078px;top:625.4px;width:115px;height:22.9px;background:#416ae6;border-radius:3px;"></div>
<div style="left:1227.7px;top:625.4px;width:114.6px;height:22.9px;background:#0eb0b8;border-radius:3px;"></div>
<div class="card" style="left:1056.4px;top:689.3px;width:307.6px;height:72.2px;"></div>
<div style="left:1209.5px;top:706px;width:1px;height:38.7px;background:#f4f5f8;"></div>
<div class="card" style="left:1056.4px;top:787.3px;width:307.6px;height:80px;"></div>
<span style="left:210.20px;top:41.00px;font-size:19.6px;line-height:19.6px;color:#4a72d9;letter-spacing:-0.345px;-webkit-text-stroke:.35px #4a72d9;">SOFBOX</span>
<span style="left:175.60px;top:87.00px;font-size:10.6px;line-height:10.6px;color:#a9abb4;letter-spacing:0.159px;">Home</span>
<span style="left:175.60px;top:182.00px;font-size:10.6px;line-height:10.6px;color:#a9abb4;letter-spacing:-0.129px;">Pages</span>
<span style="left:175.60px;top:483.00px;font-size:10.6px;line-height:10.6px;color:#a9abb4;letter-spacing:0.166px;">Elements</span>
<span style="left:203.80px;top:121.00px;font-size:11px;line-height:11px;color:#ffffff;letter-spacing:-0.159px;">Dashboard</span>
<span style="left:203.80px;top:149.00px;font-size:11px;line-height:11px;color:#999ba6;letter-spacing:-0.103px;">Menu Style</span>
<span style="left:203.80px;top:210.00px;font-size:11px;line-height:11px;color:#999ba6;letter-spacing:-0.342px;">Example</span>
<span style="left:203.80px;top:244.00px;font-size:11px;line-height:11px;color:#999ba6;letter-spacing:-0.064px;">Widgets</span>
<span style="left:203.80px;top:277.00px;font-size:11px;line-height:11px;color:#999ba6;letter-spacing:-0.277px;">Maps</span>
<span style="left:203.80px;top:311.00px;font-size:11px;line-height:11px;color:#999ba6;letter-spacing:0.034px;">Authentication</span>
<span style="left:203.80px;top:344.00px;font-size:11px;line-height:11px;color:#999ba6;letter-spacing:-0.287px;">Users</span>
<span style="left:203.80px;top:378.00px;font-size:11px;line-height:11px;color:#999ba6;letter-spacing:-0.084px;">Error 404</span>
<span style="left:203.80px;top:411.00px;font-size:11px;line-height:11px;color:#999ba6;letter-spacing:-0.140px;">Error 505</span>
<span style="left:203.80px;top:445.00px;font-size:11px;line-height:11px;color:#999ba6;letter-spacing:-0.063px;">Maintence</span>
<span style="left:203.80px;top:517.00px;font-size:11px;line-height:11px;color:#999ba6;letter-spacing:-0.108px;">Components</span>
<span style="left:203.80px;top:550.00px;font-size:11px;line-height:11px;color:#999ba6;letter-spacing:-0.418px;">Form</span>
<span style="left:203.80px;top:584.00px;font-size:11px;line-height:11px;color:#999ba6;letter-spacing:-0.099px;">Table</span>
<span style="left:203.80px;top:617.00px;font-size:11px;line-height:11px;color:#999ba6;letter-spacing:-0.199px;">Icons</span>
<span style="left:372.10px;top:38.00px;font-size:10.4px;line-height:10.4px;color:#c0c2ca;letter-spacing:-0.022px;">Search...</span>
<span style="left:1274.60px;top:32.00px;font-size:10.8px;line-height:10.8px;color:#3a3f51;letter-spacing:0.036px;">Austin Robertson</span>
<span style="left:1274.60px;top:47.00px;font-size:8.5px;line-height:8.5px;color:#a3a6b2;letter-spacing:0.218px;">Marketing Administrator</span>
<span style="left:345.00px;top:81.00px;font-size:25px;line-height:25px;color:#ffffff;font-weight:700;letter-spacing:0.241px;">Hello Devs !</span>
<span style="left:345.60px;top:116.00px;font-size:15px;line-height:15px;color:#f4f6ff;letter-spacing:0.313px;">We are on a mission to help developers like you to build beautiful projects for FREE.</span>
<span style="left:1271.00px;top:86.00px;font-size:10.3px;line-height:10.3px;color:#eef0ff;letter-spacing:0.258px;">Announcments</span>
<span style="left:421.00px;top:179.00px;font-size:10.5px;line-height:10.5px;color:#9c9ea9;letter-spacing:0.057px;">Total Sales</span>
<span style="left:420.80px;top:202.00px;font-size:13px;line-height:13px;color:#2f3342;letter-spacing:0.221px;-webkit-text-stroke:.4px #2f3342;">$560K</span>
<span style="left:595.00px;top:179.00px;font-size:10.5px;line-height:10.5px;color:#9c9ea9;letter-spacing:0.199px;">Total Profit</span>
<span style="left:594.80px;top:202.00px;font-size:13px;line-height:13px;color:#2f3342;letter-spacing:-0.319px;-webkit-text-stroke:.4px #2f3342;">$185K</span>
<span style="left:769.00px;top:179.00px;font-size:10.5px;line-height:10.5px;color:#9c9ea9;letter-spacing:0.231px;">Total Cost</span>
<span style="left:768.80px;top:202.00px;font-size:13px;line-height:13px;color:#2f3342;letter-spacing:0.141px;-webkit-text-stroke:.4px #2f3342;">$375K</span>
<span style="left:943.00px;top:179.00px;font-size:10.5px;line-height:10.5px;color:#9c9ea9;letter-spacing:-0.062px;">Revenue</span>
<span style="left:942.80px;top:202.00px;font-size:13px;line-height:13px;color:#2f3342;letter-spacing:0.041px;-webkit-text-stroke:.4px #2f3342;">$742K</span>
<span style="left:1117.00px;top:179.00px;font-size:10.5px;line-height:10.5px;color:#9c9ea9;letter-spacing:0.200px;">Net Income</span>
<span style="left:1116.80px;top:202.00px;font-size:13px;line-height:13px;color:#2f3342;letter-spacing:-0.099px;-webkit-text-stroke:.4px #2f3342;">$150K</span>
<span style="left:1291.00px;top:179.00px;font-size:10.5px;line-height:10.5px;color:#9c9ea9;letter-spacing:0.194px;">Today</span>
<span style="left:1290.80px;top:202.00px;font-size:13px;line-height:13px;color:#2f3342;letter-spacing:0.489px;-webkit-text-stroke:.4px #2f3342;">$4600</span>
<span style="left:361.70px;top:279.00px;font-size:13px;line-height:13px;color:#2f3342;letter-spacing:-0.020px;-webkit-text-stroke:.4px #2f3342;">$855.8K</span>
<span style="left:361.70px;top:301.00px;font-size:10.5px;line-height:10.5px;color:#a2a4ad;letter-spacing:-0.081px;">Gross Sales</span>
<span style="left:649.90px;top:290.00px;font-size:10.6px;line-height:10.6px;color:#9799a5;letter-spacing:-0.240px;">Sales</span>
<span style="left:704.90px;top:290.00px;font-size:10.6px;line-height:10.6px;color:#9799a5;letter-spacing:0.051px;">Cost</span>
<span style="left:945.00px;top:290.00px;font-size:10.5px;line-height:10.5px;color:#a4a6b2;letter-spacing:-0.012px;">This Week</span>
<span style="left:361.70px;top:335.00px;font-size:10.5px;line-height:10.5px;color:#a2a4ad;letter-spacing:0.056px;">99</span>
<span style="left:361.70px;top:368.00px;font-size:10.5px;line-height:10.5px;color:#a2a4ad;letter-spacing:0.056px;">90</span>
<span style="left:361.70px;top:401.00px;font-size:10.5px;line-height:10.5px;color:#a2a4ad;letter-spacing:0.056px;">81</span>
<span style="left:361.70px;top:435.00px;font-size:10.5px;line-height:10.5px;color:#a2a4ad;letter-spacing:0.056px;">72</span>
<span style="left:361.70px;top:468.00px;font-size:10.5px;line-height:10.5px;color:#a2a4ad;letter-spacing:0.056px;">63</span>
<span style="left:361.70px;top:502.00px;font-size:10.5px;line-height:10.5px;color:#a2a4ad;letter-spacing:0.056px;">54</span>
<span style="left:380.08px;top:519.00px;font-size:10.6px;line-height:10.6px;color:#a2a4ad;letter-spacing:0.069px;">Jan</span>
<span style="left:482.66px;top:519.00px;font-size:10.6px;line-height:10.6px;color:#a2a4ad;letter-spacing:-0.089px;">Feb</span>
<span style="left:586.06px;top:519.00px;font-size:10.6px;line-height:10.6px;color:#a2a4ad;letter-spacing:0.017px;">Mar</span>
<span style="left:689.98px;top:519.00px;font-size:10.6px;line-height:10.6px;color:#a2a4ad;letter-spacing:0.067px;">Apr</span>
<span style="left:792.58px;top:519.00px;font-size:10.6px;line-height:10.6px;color:#a2a4ad;letter-spacing:-0.131px;">Jun</span>
<span style="left:894.98px;top:519.00px;font-size:10.6px;line-height:10.6px;color:#a2a4ad;letter-spacing:0.251px;">Jul</span>
<span style="left:994.52px;top:519.00px;font-size:10.6px;line-height:10.6px;color:#a2a4ad;letter-spacing:0.047px;">Aug</span>
<span style="left:366.90px;top:599.00px;font-size:12.6px;line-height:12.6px;color:#2f3342;letter-spacing:0.010px;-webkit-text-stroke:.3px #2f3342;">Earnings</span>
<span style="left:531.00px;top:599.00px;font-size:10.5px;line-height:10.5px;color:#a4a6b2;letter-spacing:-0.045px;">This Week</span>
<span style="left:546.70px;top:660.00px;font-size:10.6px;line-height:10.6px;color:#a2a4ad;letter-spacing:-0.058px;">Fashion</span>
<span style="left:546.70px;top:678.00px;font-size:11px;line-height:11px;color:#2f3342;letter-spacing:-0.426px;-webkit-text-stroke:.3px #2f3342;">251K</span>
<span style="left:546.70px;top:727.00px;font-size:10.6px;line-height:10.6px;color:#a2a4ad;letter-spacing:0.136px;">Accessories</span>
<span style="left:546.70px;top:745.00px;font-size:11px;line-height:11px;color:#2f3342;letter-spacing:-0.551px;-webkit-text-stroke:.3px #2f3342;">176K</span>
<span style="left:668.00px;top:594.00px;font-size:12.6px;line-height:12.6px;color:#2f3342;letter-spacing:0.182px;-webkit-text-stroke:.3px #2f3342;">Conversions</span>
<span style="left:944.50px;top:594.00px;font-size:10.5px;line-height:10.5px;color:#a4a6b2;letter-spacing:-0.067px;">This Week</span>
<span style="left:667.48px;top:627.00px;font-size:9px;line-height:9px;color:#4a4d5a;">160</span>
<span style="left:667.48px;top:658.00px;font-size:9px;line-height:9px;color:#4a4d5a;">120</span>
<span style="left:669.99px;top:690.00px;font-size:9px;line-height:9px;color:#4a4d5a;">80</span>
<span style="left:669.99px;top:721.00px;font-size:9px;line-height:9px;color:#4a4d5a;">40</span>
<span style="left:672.49px;top:753.00px;font-size:9px;line-height:9px;color:#4a4d5a;">0</span>
<span style="left:703.09px;top:769.00px;font-size:9px;line-height:9px;color:#4a4d5a;">S</span>
<span style="left:734.53px;top:769.00px;font-size:9px;line-height:9px;color:#4a4d5a;">M</span>
<span style="left:767.71px;top:769.00px;font-size:9px;line-height:9px;color:#4a4d5a;">T</span>
<span style="left:798.39px;top:769.00px;font-size:9px;line-height:9px;color:#4a4d5a;">W</span>
<span style="left:832.07px;top:769.00px;font-size:9px;line-height:9px;color:#4a4d5a;">T</span>
<span style="left:864.25px;top:769.00px;font-size:9px;line-height:9px;color:#4a4d5a;">F</span>
<span style="left:896.17px;top:769.00px;font-size:9px;line-height:9px;color:#4a4d5a;">S</span>
<span style="left:927.61px;top:769.00px;font-size:9px;line-height:9px;color:#4a4d5a;">M</span>
<span style="left:960.79px;top:769.00px;font-size:9px;line-height:9px;color:#4a4d5a;">T</span>
<span style="left:991.47px;top:769.00px;font-size:9px;line-height:9px;color:#4a4d5a;">W</span>
<span style="left:1085.60px;top:305.00px;font-size:18px;line-height:18px;color:#ffffff;font-weight:700;letter-spacing:0.071px;">VISA</span>
<span style="left:1085.60px;top:326.00px;font-size:8.5px;line-height:8.5px;color:#f2f5ff;letter-spacing:-0.138px;">PREMIUM ACCOUNT</span>
<span style="left:1085.60px;top:381.00px;font-size:15.5px;line-height:15.5px;color:#ffffff;letter-spacing:0.229px;">5789</span>
<span style="left:1262.70px;top:381.00px;font-size:15.5px;line-height:15.5px;color:#ffffff;letter-spacing:0.204px;">2847</span>
<span style="left:1085.60px;top:430.00px;font-size:7.6px;line-height:7.6px;color:#eef2ff;letter-spacing:-0.090px;">Card holder</span>
<span style="left:1085.60px;top:445.00px;font-size:13px;line-height:13px;color:#ffffff;letter-spacing:-0.030px;">Mike Smith</span>
<span style="left:1297.50px;top:430.00px;font-size:7.6px;line-height:7.6px;color:#f2fbfb;letter-spacing:-0.084px;">Expire date</span>
<span style="left:1297.50px;top:445.00px;font-size:13px;line-height:13px;color:#ffffff;letter-spacing:0.091px;">06/21</span>
<span style="left:1102.60px;top:523.00px;font-size:11px;line-height:11px;color:#2f3342;letter-spacing:-0.489px;-webkit-text-stroke:.25px #2f3342;">1153</span>
<span style="left:1102.60px;top:538.00px;font-size:9px;line-height:9px;color:#a3a5af;letter-spacing:-0.066px;">Products</span>
<span style="left:1194.70px;top:523.00px;font-size:11px;line-height:11px;color:#2f3342;letter-spacing:-0.693px;-webkit-text-stroke:.25px #2f3342;">81K</span>
<span style="left:1194.70px;top:538.00px;font-size:9px;line-height:9px;color:#a3a5af;letter-spacing:-0.128px;">Order Served</span>
<span style="left:1072.00px;top:566.00px;font-size:19px;line-height:19px;color:#2f3342;letter-spacing:0.145px;-webkit-text-stroke:.3px #2f3342;">$4,050,12,300</span>
<span style="left:1304.15px;top:571.00px;font-size:8.6px;line-height:8.6px;color:#e9fff1;letter-spacing:-0.199px;">YoY 24%</span>
<span style="left:1072.00px;top:596.00px;font-size:11px;line-height:11px;color:#27b3b6;letter-spacing:-0.087px;">Life time sales</span>
<span style="left:1105.23px;top:631.00px;font-size:11px;line-height:11px;color:#ffffff;letter-spacing:-0.036px;">View Project</span>
<span style="left:1263.18px;top:631.00px;font-size:11px;line-height:11px;color:#ffffff;letter-spacing:-0.048px;">Analytics</span>
<span style="left:1088.91px;top:709.00px;font-size:18.5px;line-height:18.5px;color:#2f3342;letter-spacing:0.120px;-webkit-text-stroke:.1px #2f3342;">750K</span>
<span style="left:1071.80px;top:732.00px;font-size:10.9px;line-height:10.9px;color:#9c9ea9;letter-spacing:0.007px;">Website Visitors</span>
<span style="left:1286.97px;top:709.00px;font-size:18.5px;line-height:18.5px;color:#2f3342;letter-spacing:0.041px;-webkit-text-stroke:.1px #2f3342;">7,500</span>
<span style="left:1271.48px;top:732.00px;font-size:10.9px;line-height:10.9px;color:#9c9ea9;letter-spacing:-0.036px;">New Customers</span>
<span style="left:1072.00px;top:807.00px;font-size:16px;line-height:16px;color:#2f3342;letter-spacing:0.144px;-webkit-text-stroke:.3px #2f3342;">Actvity overview</span>
</div></div>
<div style="left:154.4px;top:792px;width:1.3px;height:44px;background:linear-gradient(rgba(165,167,170,0),#a6a8ab 25%,#a6a8ab);"></div>
</body></html>
